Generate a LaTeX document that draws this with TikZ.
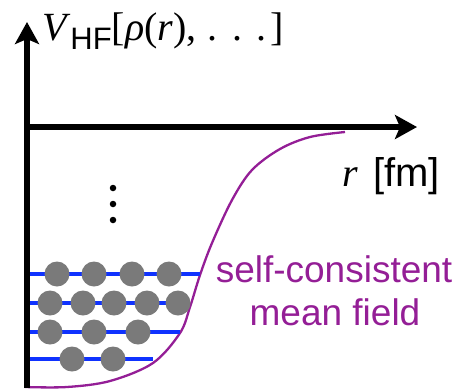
\documentclass[tikz,border=0pt]{standalone}
\usepackage{fontspec}
\usepackage{graphicx}
\setmainfont{Liberation Sans}
\newfontfamily\hlv{Liberation Sans}
\newfontfamily\tms{Liberation Serif}
\usetikzlibrary{arrows.meta}
\definecolor{mfcol}{RGB}{148,30,150}
\definecolor{lvlcol}{RGB}{15,50,255}
\definecolor{nuccol}{RGB}{122,122,122}
\tikzset{
  axisline/.style={line width=6pt, -{Stealth[length=22pt,width=24pt,inset=5pt]}},
  level/.style={lvlcol, line width=4pt},
  nucleon/.style={circle, fill=nuccol, draw=none, minimum size=25pt, inner sep=0pt},
  vdot/.style={circle, fill=black, draw=none, minimum size=6.5pt, inner sep=0pt},
  mflabel/.style={mfcol, anchor=base, inner sep=0pt, font=\hlv\fontsize{37}{44}\selectfont},
  txt/.style={anchor=base west, inner sep=0pt}
}
\begin{document}
\begin{tikzpicture}[x=1pt,y=-1pt]
\useasboundingbox (0,0) rectangle (454,391);
% mean field curve
\draw[mfcol, line width=2.3pt] plot[smooth, tension=0.55] coordinates {(25,387) (67,387) (110,381) (153,363) (180,333) (190,307) (200,275) (212,243) (232,200) (252,170) (280,149) (310,137) (345,132)};
% levels
\coordinate (a1) at (28,274); \coordinate (b1) at (200,274);
\coordinate (a2) at (25,303); \coordinate (b2) at (190,303);
\coordinate (a3) at (25,332); \coordinate (b3) at (180,332);
\coordinate (a4) at (27,359); \coordinate (b4) at (153,359);
\draw[level] (a1) -- (b1);
\draw[level] (a2) -- (b2);
\draw[level] (a3) -- (b3);
\draw[level] (a4) -- (b4);
% nucleons
\foreach \x [count=\i] in {57,94,132,169} \node[nucleon] (n1\i) at (\x,274) {};
\foreach \x [count=\i] in {50,83,114,147,178} \node[nucleon] (n2\i) at (\x,303) {};
\foreach \x [count=\i] in {50,94,138} \node[nucleon] (n3\i) at (\x,332) {};
\foreach \x [count=\i] in {72,113} \node[nucleon] (n4\i) at (\x,359) {};
% dots
\node[vdot] (d1) at (113,188) {};
\node[vdot] (d2) at (113,204) {};
\node[vdot] (d3) at (113,220) {};
% axes
\coordinate (o) at (27,388);
\coordinate (ytop) at (27,22);
\coordinate (xl) at (24,127);
\coordinate (xr) at (417,127);
\draw[axisline] (o) -- (ytop);
\draw[axisline] (xl) -- (xr);
% labels
\node[txt] (vlab) at (42,40) {\fontsize{40}{48}\selectfont\tms\textit{V}\raisebox{-9pt}{\hlv\fontsize{31}{36}\selectfont HF}[\textit{ρ}(\textit{r}),\hspace{0.28em}.\hspace{0.36em}.\hspace{0.36em}.\hspace{0.1em}]};
\node[txt] (rlab) at (342,186) {\fontsize{40}{48}\selectfont{\tms\textit{r}}\hspace{0.38em}\hlv[fm]};
\node[mflabel] (mf1) at (334,282) {self-consistent};
\node[mflabel] (mf2) at (335,325) {mean field};
\end{tikzpicture}
\end{document}
